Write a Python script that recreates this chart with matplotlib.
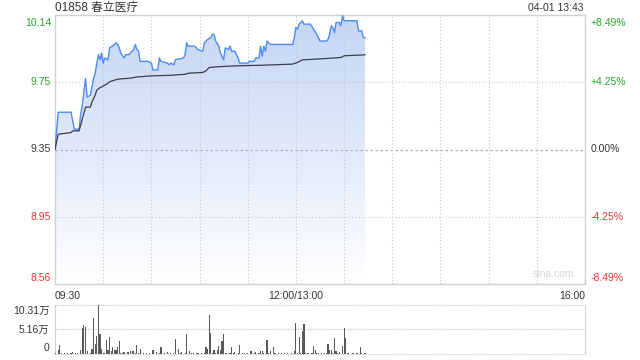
import numpy as np
import matplotlib
matplotlib.use('Agg')
import matplotlib.pyplot as plt
from matplotlib.patches import Polygon
from matplotlib.colors import to_rgba

# ---------------- data ----------------
stock_title = "01858 春立医疗"
timestamp = "04-01 13:43"
prev_close = 9.35
price_ticks = [10.14, 9.75, 9.35, 8.95, 8.56]
pct_labels = ["+8.49%", "+4.25%", "0.00%", "-4.25%", "-8.49%"]
x_labels = ["09:30", "12:00/13:00", "16:00"]
vol_ticks = [10.31, 5.16, 0]
vol_tick_labels = ["10.31万", "5.16万", "0"]

# minutes since 09:30 (lunch break removed), price
price_min = [0, 2, 10, 12, 15, 16, 17, 19, 20, 22, 24, 25, 27, 28, 29, 30, 31, 33,
             34, 37, 38, 39, 40, 41, 43, 44, 46, 48, 49, 50, 51, 52, 53, 58, 60, 61,
             64, 65, 66, 70, 71, 72, 74, 75, 80, 81, 82, 83, 87, 89, 92, 93, 95, 97,
             98, 99, 100, 102, 103, 105, 106, 108, 109, 110, 112, 114, 115, 120, 121,
             124, 125, 127, 128, 129, 130, 131, 132, 134, 148, 149, 150, 151, 152,
             154, 155, 159, 161, 163, 165, 169, 170, 171, 172, 173, 174, 175, 177,
             178, 179, 180, 188, 189, 191, 192, 193]
price_val = [9.35, 9.57, 9.57, 9.47, 9.47, 9.56, 9.61, 9.77, 9.66, 9.67, 9.77, 9.80,
             9.91, 9.88, 9.92, 9.86, 9.89, 9.88, 9.95, 9.97, 9.98, 9.97, 9.95, 9.92,
             9.89, 9.91, 9.91, 9.93, 9.94, 9.97, 9.94, 9.93, 9.87, 9.87, 9.86, 9.82,
             9.82, 9.89, 9.87, 9.86, 9.85, 9.86, 9.85, 9.88, 9.89, 9.91, 9.98, 9.96,
             9.96, 9.94, 9.93, 9.98, 10.00, 10.01, 10.03, 10.03, 9.99, 9.96, 9.92,
             9.88, 9.95, 9.94, 9.96, 9.93, 9.93, 9.89, 9.86, 9.86, 9.87, 9.87, 9.89,
             9.89, 9.96, 9.90, 9.96, 9.93, 9.99, 9.97, 9.97, 10.01, 10.07, 10.06,
             10.09, 10.11, 10.09, 10.09, 10.06, 10.03, 9.99, 9.99, 10.00, 10.03,
             10.08, 10.07, 10.04, 10.10, 10.10, 10.08, 10.14, 10.11, 10.11, 10.05,
             10.05, 10.01, 10.01]

avg_min = [0, 2, 10, 11, 15, 17, 19, 22, 23, 25, 26, 28, 30, 32, 34, 39, 47, 51, 59,
           72, 81, 83, 92, 94, 96, 104, 114, 131, 148, 151, 154, 169, 178, 180, 193]
avg_val = [9.35, 9.44, 9.45, 9.46, 9.46, 9.53, 9.60, 9.60, 9.63, 9.67, 9.70, 9.715,
           9.725, 9.735, 9.75, 9.765, 9.771, 9.778, 9.784, 9.788, 9.794, 9.80, 9.805,
           9.814, 9.834, 9.84, 9.844, 9.848, 9.854, 9.864, 9.879, 9.887, 9.893,
           9.903, 9.909]

# volume per minute (万股), minutes 0..193
volume = [0.15, 0.1, 0.9, 1.95, 0.15, 0.1, 0.15, 0.1, 0.15, 0.1,
          0.15, 0.4, 0.1, 0.15, 0.2, 0.1, 0.9, 5.4, 6.1, 5.6,
          0.55, 0.1, 0.15, 1.1, 7.5, 2.15, 3.8, 10.31, 4.25, 1.1,
          0.2, 0.15, 3.0, 0.75, 3.6, 0.7, 1.4, 0.75, 0.75, 1.4,
          2.8, 0.2, 0.15, 0.35, 0.1, 0.4, 0.4, 0.55, 0.7, 0.7,
          0.2, 1.95, 0.15, 1.1, 0.1, 0.15, 0.1, 0.2, 0.1, 0.15,
          0.1, 0.75, 0.1, 0.35, 0.1, 0.15, 1.4, 0.1, 0.15, 0.1,
          0.35, 0.1, 0.2, 0.1, 0.15, 3.2, 0.1, 1.1, 0.15, 0.35,
          0.1, 0.15, 4.3, 0.1, 0.55, 0.15, 0.2, 0.1, 0.2, 0.15,
          0.1, 0.2, 0.1, 0.15, 1.5, 1.05, 8.2, 4.45, 0.2, 0.9,
          0.15, 0.9, 1.75, 0.9, 2.8, 4.25, 0.15, 0.2, 0.1, 0.2,
          1.5, 0.15, 0.4, 0.1, 0.2, 1.95, 0.1, 0.2, 0.15, 0.1,
          0.15, 0.1, 0.55, 0.1, 0.2, 0.4, 0.1, 0.15, 0.7, 0.55,
          0.15, 0.1, 3.0, 0.15, 0.55, 0.1, 1.4, 0.15, 0.1, 0.15,
          0.1, 0.15, 0.1, 0.15, 0.1, 0.15, 0.1, 0.15, 0.1, 0.7,
          6.6, 0.2, 3.5, 0.15, 4.75, 6.35, 0.2, 0.15, 0.2, 0.1,
          0.15, 1.75, 0.9, 0.15, 0.2, 0.1, 0.2, 0.1, 0.2, 0.15,
          2.15, 0.75, 0.9, 0.15, 3.4, 0.55, 0.2, 0.4, 0.1, 1.75,
          5.5, 3.4, 0.15, 0.2, 0.1, 0.15, 0.2, 0.1, 0.15, 0.1,
          1.5, 0.15, 0.1, 0.15]

# ---------------- style ----------------
FONT = ['Liberation Sans', 'Noto Sans CJK SC', 'DejaVu Sans']
plt.rcParams['font.family'] = FONT
GREEN = '#2aa52a'
RED = '#f03333'
GREY_TXT = '#333333'
GRID = '#c8c8c8'
BORDER = '#d0d0d0'
LINE_BLUE = '#4d8bf0'
AVG = '#3a3f4c'

W, H = 640, 360
fig = plt.figure(figsize=(6.4, 3.6), dpi=100)

def ax_rect(x0, y0, x1, y1):
    return [x0 / W, 1 - y1 / H, (x1 - x0) / W, (y1 - y0) / H]

total_minutes = 330
pct_span = 0.0849
ylo = prev_close * (1 - pct_span)
yhi = prev_close * (1 + pct_span)

ax = fig.add_axes(ax_rect(55, 15, 585, 284))
ax.set_xlim(0, total_minutes)
ax.set_ylim(ylo, yhi)
ax.set_xticks([])
ax.set_yticks([])
for s in ax.spines.values():
    s.set_color(BORDER)
    s.set_linewidth(1.0)

# grid (drawn above the fill, below the lines)
for m in range(30, total_minutes, 30):
    ax.axvline(m, color=GRID, lw=0.8, ls=(0, (1, 2)), zorder=3)
for p in [price_ticks[1], price_ticks[3]]:
    ax.axhline(p, color=GRID, lw=0.8, ls=(0, (1, 2)), zorder=3)
ax.axhline(prev_close, color='#b0b0b0', lw=0.9, ls=(0, (2, 2)), zorder=3)

# gradient fill under price
top_c = np.array(to_rgba('#c3d5f5'))
bot_c = np.array(to_rgba('#ffffff'))
t = np.linspace(0, 1, 256)[:, None]
grad = (top_c[None, :] * (1 - t) + bot_c[None, :] * t)[:, None, :]
pmax = max(price_val)
img = ax.imshow(grad, extent=(price_min[0], price_min[-1], ylo, pmax),
                aspect='auto', origin='upper', zorder=2, interpolation='bilinear')
verts = list(zip(price_min, price_val)) + [(price_min[-1], ylo), (price_min[0], ylo)]
poly = Polygon(verts, closed=True, facecolor='none', edgecolor='none',
               transform=ax.transData)
ax.add_patch(poly)
img.set_clip_path(poly)

ax.plot(price_min, price_val, color=LINE_BLUE, lw=1.0, zorder=4)
ax.plot(avg_min, avg_val, color=AVG, lw=0.9, zorder=4)

# y labels
for p, lab in zip(price_ticks, pct_labels):
    if p > prev_close + 1e-9:
        c = GREEN
    elif p < prev_close - 1e-9:
        c = RED
    else:
        c = GREY_TXT
    if p == price_ticks[0]:
        yv, va = yhi, 'top'
    elif p == price_ticks[-1]:
        yv, va = ylo, 'bottom'
    else:
        yv, va = p, 'center'
    off = 2 if va == 'top' else (-1 if va == 'bottom' else 0)
    ax.annotate(f"{p:.2f}", xy=(0, yv), xycoords=('axes fraction', 'data'),
                xytext=(-3, -off), textcoords='offset points',
                ha='right', va=va, color=c, fontsize=7.5)
    ax.annotate(lab, xy=(1, yv), xycoords=('axes fraction', 'data'),
                xytext=(4, -off), textcoords='offset points',
                ha='left', va=va, color=c, fontsize=7.5)

# x labels
xl_y = -0.025
ax.text(0, xl_y, x_labels[0], transform=ax.transAxes, ha='left', va='top',
        fontsize=7.5, color=GREY_TXT)
ax.text(150 / total_minutes, xl_y, x_labels[1], transform=ax.transAxes,
        ha='center', va='top', fontsize=7.5, color=GREY_TXT)
ax.text(1, xl_y, x_labels[2], transform=ax.transAxes, ha='right', va='top',
        fontsize=7.5, color=GREY_TXT)

# watermark
ax.text(0.98, 0.02, "sina.com", transform=ax.transAxes, ha='right', va='bottom',
        fontsize=7.5, color='#d5d5d5')

# title & timestamp
fig.text(55 / W, 1 - 8 / H, stock_title, ha='left', va='center', fontsize=8.5,
         color=GREY_TXT, family=FONT)
fig.text(584 / W, 1 - 8 / H, timestamp, ha='right', va='center', fontsize=7.5,
         color=GREY_TXT)

# ---------------- volume ----------------
vax = fig.add_axes(ax_rect(55, 305, 585, 354))
vax.set_xlim(0, total_minutes)
vax.set_ylim(0, vol_ticks[0])
vax.bar(np.arange(len(volume)), volume, width=0.7, color='#5a5a5a', zorder=3)
vax.set_xticks([])
vax.set_yticks([])
for s in ['top', 'bottom']:
    vax.spines[s].set_visible(False)
for s in ['left', 'right']:
    vax.spines[s].set_color(BORDER)
for v in vol_ticks:
    vax.axhline(v, color=GRID, lw=0.9, ls=(0, (1, 1)), zorder=1, clip_on=False)
for v, lab in zip(vol_ticks, vol_tick_labels):
    if v == vol_ticks[0]:
        va, dy = 'top', -1
    elif v == vol_ticks[-1]:
        va, dy = 'bottom', 1
    else:
        va, dy = 'center', 0
    vax.annotate(lab, xy=(0, v), xycoords=('axes fraction', 'data'),
                 xytext=(-4, dy), textcoords='offset points', ha='right',
                 va=va, fontsize=7.5, color=GREY_TXT, family=FONT)

fig.savefig('out.png', dpi=100)
